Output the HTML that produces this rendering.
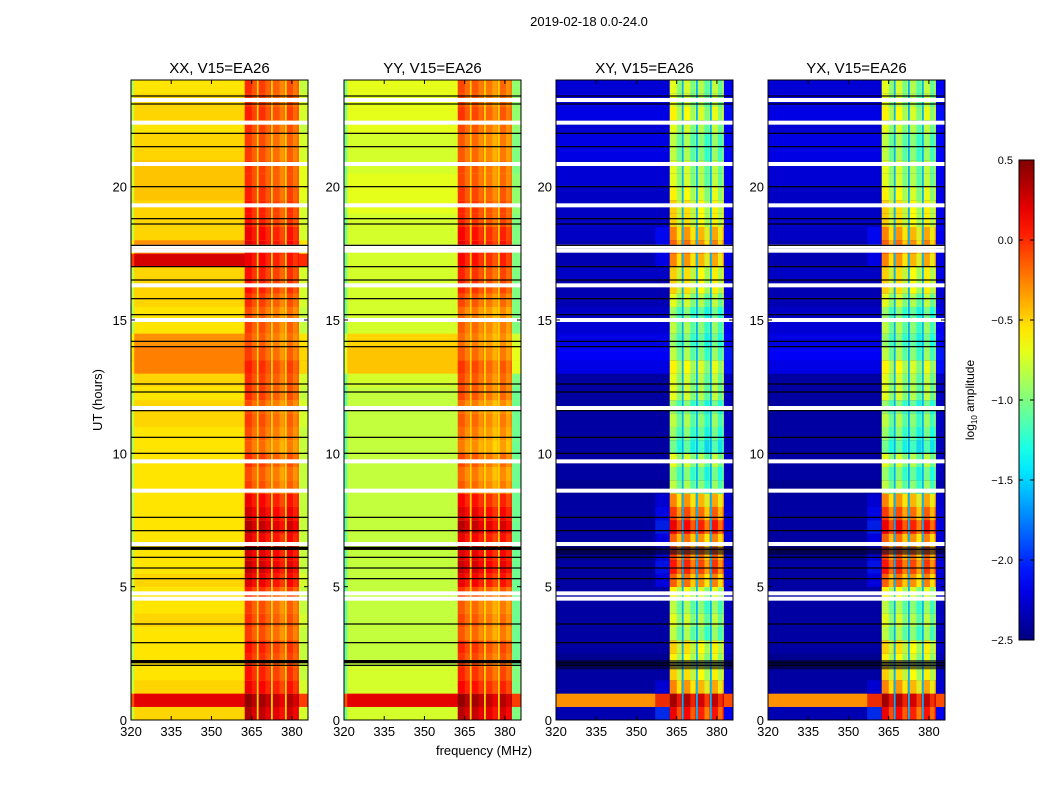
<!DOCTYPE html>
<html><head><meta charset="utf-8"><style>
body{margin:0;background:#fff;}
svg{display:block;font-family:"Liberation Sans",sans-serif;}
</style></head><body>
<svg id="fig" width="1050" height="800" viewBox="0 0 1050 800" xmlns="http://www.w3.org/2000/svg">
<rect width="1050" height="800" fill="#fff"/>
<text x="589" y="26" font-size="13" text-anchor="middle">2019-02-18 0.0-24.0</text>
<text x="484" y="755" font-size="13" text-anchor="middle">frequency (MHz)</text>
<text transform="translate(102,400) rotate(-90)" font-size="13" text-anchor="middle">UT (hours)</text>
<g id="panels"></g>
<g id="cbar"></g>
</svg>
<script>
// ---- data ----
const panelTitles = ["XX, V15=EA26","YY, V15=EA26","XY, V15=EA26","YX, V15=EA26"];
const rowStarts = [0,0.5,1,1.5,2,2.5,3,3.5,4,4.5,5,5.5,6,6.5,7,7.5,8,8.5,9,9.5,10,10.5,11,11.5,12,12.5,13,13.5,14,14.5,15,15.5,16,16.5,17,17.5,18,18.5,19,19.5,20,20.5,21,21.5,22,22.5,23,23.5];
const bandLevel = [0.9,1.0,0.7,0.6,0.55,0.6,0.45,0.5,0.45,0.55,0.75,0.85,0.8,0.75,0.9,0.8,0.7,0.45,0.4,0.5,0.35,0.4,0.45,0.4,0.5,0.5,0.55,0.45,0.4,0.45,0.4,0.5,0.6,0.6,0.7,0.75,0.7,0.6,0.6,0.55,0.5,0.5,0.45,0.45,0.5,0.55,0.5,0.5];
const xxBase = [-0.5,0.2,-0.5,-0.55,-0.55,-0.55,-0.55,-0.5,-0.55,-0.55,-0.5,-0.55,-0.55,-0.55,-0.55,-0.55,-0.55,-0.55,-0.55,-0.55,-0.55,-0.55,-0.5,-0.5,-0.55,-0.5,-0.25,-0.25,-0.3,-0.55,-0.55,-0.5,-0.5,-0.5,0.25,-0.3,-0.5,-0.5,-0.5,-0.45,-0.45,-0.45,-0.5,-0.5,-0.55,-0.5,-0.5,-0.55];
const yyBase = [-0.75,0.2,-0.75,-0.75,-0.8,-0.8,-0.8,-0.8,-0.8,-0.8,-0.8,-0.8,-0.8,-0.8,-0.8,-0.8,-0.8,-0.8,-0.8,-0.8,-0.8,-0.8,-0.8,-0.8,-0.8,-0.75,-0.45,-0.45,-0.5,-0.75,-0.75,-0.75,-0.75,-0.75,-0.75,-0.75,-0.75,-0.75,-0.7,-0.7,-0.7,-0.75,-0.75,-0.75,-0.7,-0.7,-0.7,-0.7];
const crossBase = [-2.35,-0.3,-2.4,-2.4,-2.45,-2.4,-2.4,-2.4,-2.4,-2.4,-2.4,-2.4,-2.45,-2.4,-2.4,-2.4,-2.4,-2.45,-2.4,-2.4,-2.4,-2.4,-2.4,-2.4,-2.4,-2.4,-2.2,-2.15,-2.2,-2.25,-2.3,-2.35,-2.35,-2.3,-2.35,-2.35,-2.3,-2.3,-2.3,-2.3,-2.25,-2.25,-2.2,-2.2,-2.25,-2.2,-2.2,-2.25];
const subbandEdges = [362.4,367.2,372.5,377.7,382.6];
const subbandOffset = [0.1,0.05,-0.05,0.0];
const whiteFlags = [4.55,4.75,6.6,8.6,9.7,11.7,15.0,16.3,17.6,17.75,19.3,20.85,22.4,23.25];
const blackLines = [2.05,2.15,2.9,3.6,5.3,5.7,6.1,6.4,7.1,7.6,10.0,10.6,11.6,12.3,12.6,14.0,14.2,15.2,15.8,16.5,17.0,17.8,18.6,18.8,20.0,21.5,22.0,23.1,23.4];
const yTicks = [0,5,10,15,20];
const xTicks = [320,335,350,365,380];
const cbTicks = [0.5,0.0,-0.5,-1.0,-1.5,-2.0,-2.5];
const cbLabels = ["0.5","0.0","\u22120.5","\u22121.0","\u22121.5","\u22122.0","\u22122.5"];

// ---- geometry ----
const NS="http://www.w3.org/2000/svg";
const panelX=[131,344,556,768], PW=177, PT=80, PB=720;
const fMin=320,fMax=386,tMin=0,tMax=24, vMin=-2.5, vMax=0.5;
function mk(t,a,p){const e=document.createElementNS(NS,t);for(const k in a)e.setAttribute(k,a[k]);p.appendChild(e);return e;}
function jet(v){let x=(v-vMin)/(vMax-vMin);x=Math.max(0,Math.min(1,x));
 const c=t=>Math.max(0,Math.min(1,1.5-Math.abs(4*x-t)));
 return `rgb(${Math.round(255*c(3))},${Math.round(255*c(2))},${Math.round(255*c(1))})`;}
const panels=document.getElementById('panels');
panelTitles.forEach((title,pi)=>{
 const x0=panelX[pi];
 const xs=f=>x0+(f-fMin)*PW/(fMax-fMin);
 const ys=t=>PB-(t-tMin)*(PB-PT)/(tMax-tMin);
 const g=mk('g',{},panels);
 
 
 const cross=pi>=2;
 rowStarts.forEach((t0,ri)=>{
  const y1=ys(t0+0.5), y0=ys(t0), h=y0-y1+0.3;
  const base = pi==0?xxBase[ri]:pi==1?yyBase[ri]:crossBase[ri];
  const lvl=bandLevel[ri];
  const bandV = pi==0? -0.55+0.9*lvl : pi==1? -0.7+1.05*lvl : -1.9+2.2*lvl;
  const r=mk('rect',{x:xs(fMin),y:y1,width:xs(fMax)-xs(fMin),height:h,fill:jet(base)},g);
  
  
  const edgeV = cross? base : base-0.3;
  mk('rect',{x:xs(fMin),y:y1,width:xs(321.2)-xs(fMin),height:h,fill:jet(edgeV)},g);
  mk('rect',{x:xs(382.6),y:y1,width:xs(fMax)-xs(382.6),height:h,fill:jet(cross?base+0.2*lvl:base-0.25)},g);
  if(cross && lvl>0.65){
   mk('rect',{x:xs(357),y:y1,width:xs(362.4)-xs(357),height:h,fill:jet(base+1.0*(lvl-0.5)),opacity:0.7},g);
  }
  for(let s=0;s<4;s++){
   const c=mk('rect',{x:xs(subbandEdges[s]),y:y1,width:xs(subbandEdges[s+1])-xs(subbandEdges[s]),height:h,fill:jet(bandV+subbandOffset[s])},g);
   
   
   const sw=xs(subbandEdges[s+1])-xs(subbandEdges[s]);
   mk('rect',{x:xs(subbandEdges[s])+sw*0.55,y:y1,width:sw*0.35,height:h,fill:jet(bandV+subbandOffset[s]-(cross?0.35:0.15)),opacity:0.8},g);
   if(s>0) mk('rect',{x:xs(subbandEdges[s])-0.8,y:y1,width:1.8,height:h,fill:jet(cross?-1.6:-0.5)},g);
  }
 });
 whiteFlags.forEach(t=>{const e=mk('rect',{x:x0,y:ys(t)-2,width:PW,height:4,fill:'#fff'},g);
  
  });
 blackLines.forEach(t=>{const e=mk('rect',{x:x0,y:ys(t)-0.6,width:PW,height:1.2,fill:'#000'},g);
  
  });
 [ [1.9,2.25],[6.2,6.5] ].forEach(([a,b])=>{
   if(cross) mk('rect',{x:x0,y:ys(b),width:PW,height:ys(a)-ys(b),fill:'#000020',opacity:0.6},g);
   else mk('rect',{x:x0,y:ys(b),width:PW,height:2.5,fill:'#000'},g);});
 const fr=mk('rect',{x:x0,y:PT,width:PW,height:PB-PT,fill:'none',stroke:'#000','stroke-width':1},g);
 
 
 const tt=mk('text',{x:x0+PW/2,y:PT-7,'font-size':15,'text-anchor':'middle'},g); tt.textContent=title;
 
 
 yTicks.forEach(t=>{const y=ys(t);
  mk('line',{x1:x0,x2:x0+4,y1:y,y2:y,stroke:'#000'},g);
  mk('line',{x1:x0+PW,x2:x0+PW-4,y1:y,y2:y,stroke:'#000'},g);
  const l=mk('text',{x:x0-4,y:y+5,'font-size':13,'text-anchor':'end'},g); l.textContent=t;
  
  });
 xTicks.forEach(f=>{const x=xs(f);
  mk('line',{x1:x,x2:x,y1:PB,y2:PB-4,stroke:'#000'},g);
  mk('line',{x1:x,x2:x,y1:PT,y2:PT+4,stroke:'#000'},g);
  const l=mk('text',{x:x,y:PB+16,'font-size':13,'text-anchor':'middle'},g); l.textContent=f;
  
  });
});
// colorbar
const cb=document.getElementById('cbar');
const CX=1019,CW=15,CT=160,CB=640;
const defs=mk('defs',{},cb);
const lg=mk('linearGradient',{id:'jetg',x1:0,y1:1,x2:0,y2:0},defs);
for(let i=0;i<=20;i++){mk('stop',{offset:i/20,'stop-color':jet(vMin+(vMax-vMin)*i/20)},lg);}
const cr=mk('rect',{x:CX,y:CT,width:CW,height:CB-CT,fill:'url(#jetg)',stroke:'#000','stroke-width':1},cb);


cbTicks.forEach((v,i)=>{const y=CB-(v-vMin)/(vMax-vMin)*(CB-CT);
 mk('line',{x1:CX,x2:CX+4,y1:y,y2:y,stroke:'#000'},cb);
 mk('line',{x1:CX+CW,x2:CX+CW-4,y1:y,y2:y,stroke:'#000'},cb);
 const l=mk('text',{x:CX-6,y:y+4,'font-size':11,'text-anchor':'end'},cb); l.textContent=cbLabels[i];
 
 });
const cl=mk('text',{transform:'translate(974,400) rotate(-90)','font-size':12,'text-anchor':'middle'},cb);
cl.innerHTML='log<tspan font-size="8" dy="3">10</tspan><tspan dy="-3"> amplitude</tspan>';


</script>
</body></html>
